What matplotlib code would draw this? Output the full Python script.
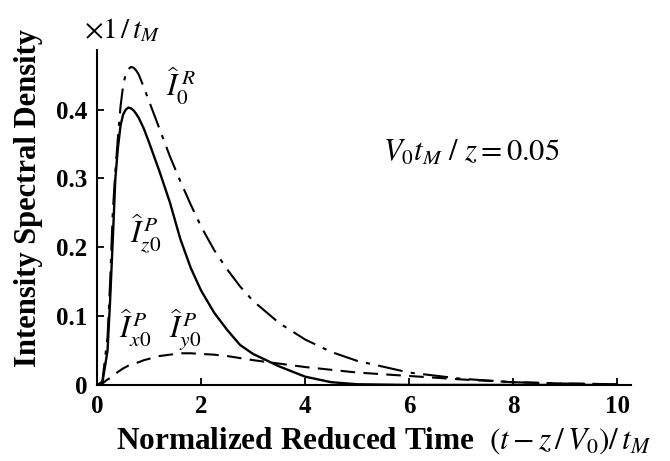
import matplotlib.pyplot as plt

plt.rcParams['font.family'] = 'Liberation Serif'
plt.rcParams['mathtext.fontset'] = 'stix'

# normalized reduced time
t = [0, 0.1, 0.2, 0.25, 0.3, 0.35, 0.4, 0.45, 0.5, 0.55, 0.6, 0.65, 0.7,
     0.75, 0.8, 0.9, 1.0, 1.2, 1.4, 1.6, 1.8, 2.0, 2.25, 2.5, 2.75, 3.0,
     3.5, 4.0, 4.5, 5.0, 6.0, 7.0, 8.0, 9.0, 10.0]

# I_0^R  (dash-dot)
i0_r = [0, 0.005, 0.07, 0.15, 0.25, 0.31, 0.36, 0.405, 0.435, 0.452, 0.459,
        0.462, 0.461, 0.457, 0.451, 0.432, 0.412, 0.372, 0.332, 0.296,
        0.262, 0.23, 0.196, 0.168, 0.143, 0.122, 0.09, 0.066, 0.048, 0.035,
        0.018, 0.009, 0.004, 0.002, 0.001]

# I_z0^P  (solid)
iz0_p = [0, 0.003, 0.05, 0.124, 0.21, 0.3, 0.345, 0.377, 0.393, 0.4, 0.403,
         0.402, 0.399, 0.394, 0.388, 0.372, 0.352, 0.31, 0.265, 0.212,
         0.17, 0.137, 0.105, 0.08, 0.058, 0.045, 0.027, 0.012, 0.004, 0.001,
         0, 0, 0, 0, 0]

# I_x0^P = I_y0^P  (dashed)
ixy0_p = [0, 0.002, 0.008, 0.01, 0.013, 0.016, 0.019, 0.0215, 0.024, 0.026,
          0.028, 0.0295, 0.031, 0.032, 0.033, 0.036, 0.038, 0.042, 0.044,
          0.046, 0.046, 0.045, 0.044, 0.042, 0.039, 0.036, 0.031, 0.026,
          0.022, 0.018, 0.013, 0.008, 0.004, 0.002, 0.001]

fig = plt.figure(figsize=(6.7, 4.61), dpi=100)
ax = fig.add_axes([0.145, 0.165, 0.797, 0.727])

ax.plot(t, i0_r, color='black', lw=1.5, dashes=(12, 4, 2, 4))
ax.plot(t, iz0_p, color='black', lw=1.7)
ax.plot(t, ixy0_p, color='black', lw=1.5, dashes=(7, 4))

ax.set_xlim(0, 10.27)
ax.set_ylim(0, 0.487)
ax.set_xticks([0, 2, 4, 6, 8, 10])
ax.set_yticks([0, 0.1, 0.2, 0.3, 0.4])
ax.set_yticklabels(['0', '0.1', '0.2', '0.3', '0.4'])
ax.tick_params(direction='in', length=5, width=1.3, labelsize=18, pad=7)
for lab in ax.get_xticklabels() + ax.get_yticklabels():
    lab.set_fontweight('bold')

for s in ['top', 'right']:
    ax.spines[s].set_visible(False)
for s in ['left', 'bottom']:
    ax.spines[s].set_linewidth(1.5)

fig.text(0.043, 0.57, 'Intensity Spectral Density', fontsize=22,
         fontweight='bold', rotation=90, ha='center', va='center')
fig.text(0.572, 0.045,
         r'Normalized Reduced Time  $\left(t-z\,/\,V_0\right)/\,t_M$',
         fontsize=22.5, fontweight='bold', ha='center', va='center')
fig.text(0.125, 0.935, r'$\times 1\,/\,t_M$', fontsize=21, va='center')

lab_kw = dict(fontsize=22, va='baseline')
ax.text(1.33, 0.419, r'$\widehat{I}_0^{\;R}$', **lab_kw)
ax.text(0.63, 0.207, r'$\widehat{I}_{z0}^{\,P}$', **lab_kw)
ax.text(0.42, 0.068, r'$\widehat{I}_{x0}^{\,P}$', **lab_kw)
ax.text(1.38, 0.068, r'$\widehat{I}_{y0}^{\,P}$', **lab_kw)
ax.text(5.5, 0.325, r'$V_0 t_M\ /\ z = 0.05$', **lab_kw)

fig.savefig('out.png', dpi=100)
